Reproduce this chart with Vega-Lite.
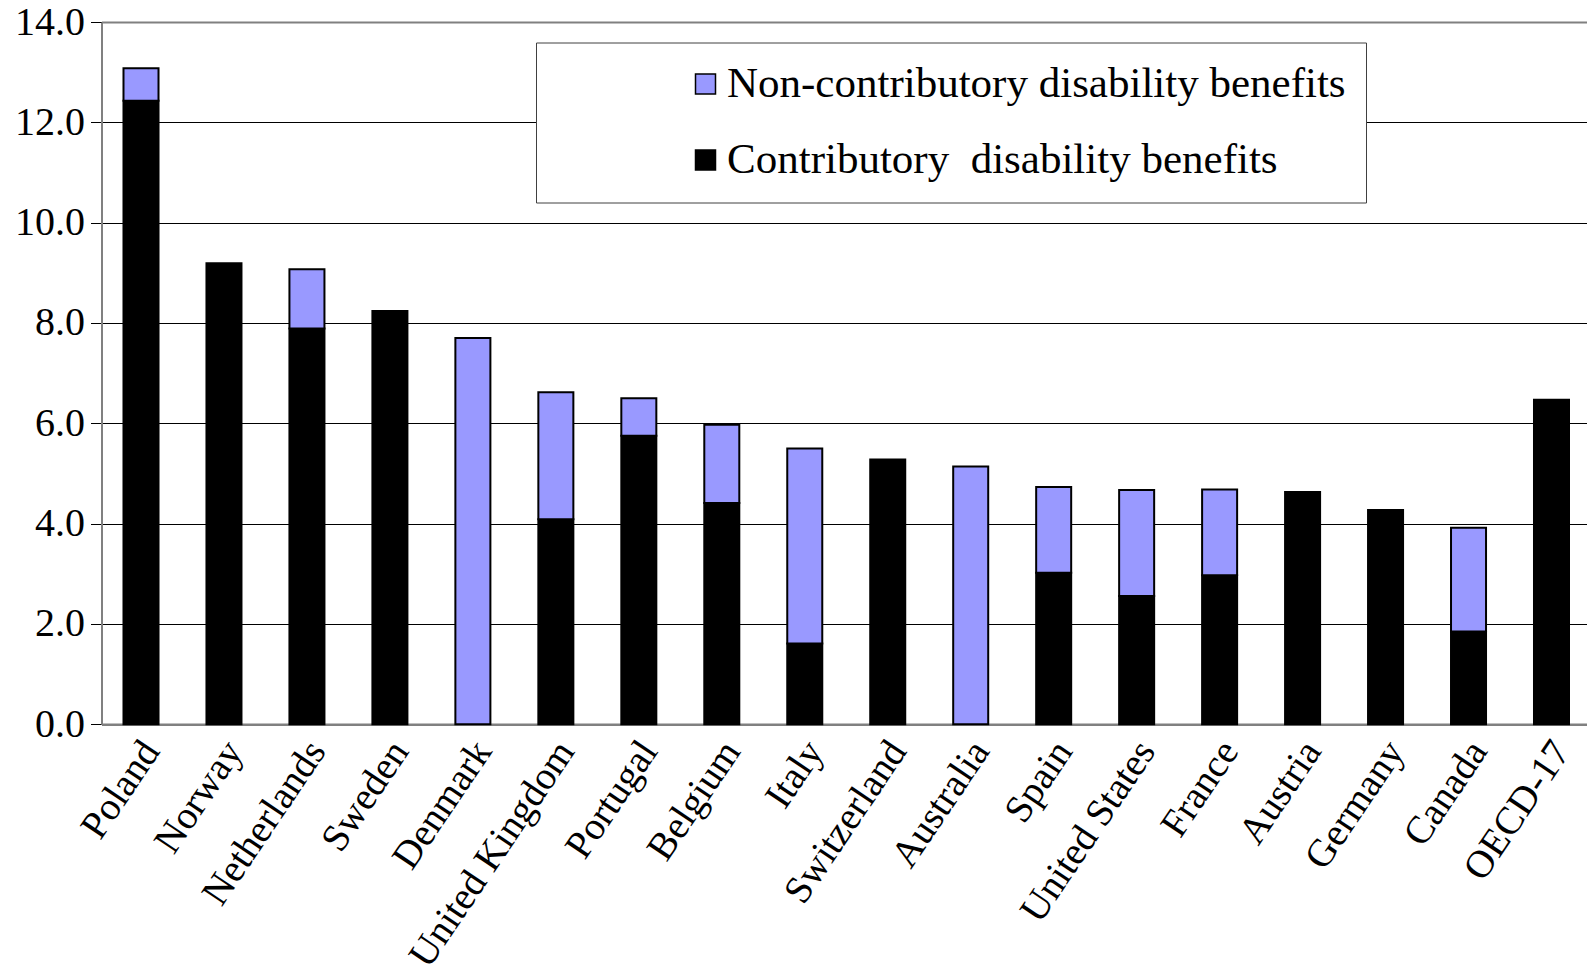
{
  "$schema": "https://vega.github.io/schema/vega-lite/v6.json",
  "autosize": {"type": "none"},
  "padding": {"left": 101.5, "top": 22, "right": 0, "bottom": 252.7},
  "width": 1485.5,
  "height": 702.3,
  "background": "white",
  "config": {"font": "Liberation Serif", "view": {"stroke": null}},
  "data": {
    "values": [
      {"country": "Poland", "type": "Contributory\u00a0 disability benefits", "value": 12.43},
      {"country": "Poland", "type": "Non-contributory disability benefits", "value": 0.65},
      {"country": "Norway", "type": "Contributory\u00a0 disability benefits", "value": 9.19},
      {"country": "Netherlands", "type": "Contributory\u00a0 disability benefits", "value": 7.89},
      {"country": "Netherlands", "type": "Non-contributory disability benefits", "value": 1.18},
      {"country": "Sweden", "type": "Contributory\u00a0 disability benefits", "value": 8.24},
      {"country": "Denmark", "type": "Non-contributory disability benefits", "value": 7.70},
      {"country": "United Kingdom", "type": "Contributory\u00a0 disability benefits", "value": 4.09},
      {"country": "United Kingdom", "type": "Non-contributory disability benefits", "value": 2.53},
      {"country": "Portugal", "type": "Contributory\u00a0 disability benefits", "value": 5.75},
      {"country": "Portugal", "type": "Non-contributory disability benefits", "value": 0.75},
      {"country": "Belgium", "type": "Contributory\u00a0 disability benefits", "value": 4.41},
      {"country": "Belgium", "type": "Non-contributory disability benefits", "value": 1.56},
      {"country": "Italy", "type": "Contributory\u00a0 disability benefits", "value": 1.61},
      {"country": "Italy", "type": "Non-contributory disability benefits", "value": 3.89},
      {"country": "Switzerland", "type": "Contributory\u00a0 disability benefits", "value": 5.28},
      {"country": "Australia", "type": "Non-contributory disability benefits", "value": 5.14},
      {"country": "Spain", "type": "Contributory\u00a0 disability benefits", "value": 3.02},
      {"country": "Spain", "type": "Non-contributory disability benefits", "value": 1.71},
      {"country": "United States", "type": "Contributory\u00a0 disability benefits", "value": 2.56},
      {"country": "United States", "type": "Non-contributory disability benefits", "value": 2.11},
      {"country": "France", "type": "Contributory\u00a0 disability benefits", "value": 2.97},
      {"country": "France", "type": "Non-contributory disability benefits", "value": 1.71},
      {"country": "Austria", "type": "Contributory\u00a0 disability benefits", "value": 4.63},
      {"country": "Germany", "type": "Contributory\u00a0 disability benefits", "value": 4.27},
      {"country": "Canada", "type": "Contributory\u00a0 disability benefits", "value": 1.85},
      {"country": "Canada", "type": "Non-contributory disability benefits", "value": 2.07},
      {"country": "OECD-17", "type": "Contributory\u00a0 disability benefits", "value": 6.47}
    ]
  },
  "mark": {"type": "bar", "stroke": "black", "strokeWidth": 2},
  "encoding": {
    "x": {
      "field": "country",
      "type": "nominal",
      "sort": null,
      "scale": {"paddingInner": 0.578, "paddingOuter": 0.241, "align": 0.55},
      "axis": {
        "title": null,
        "ticks": false,
        "labelAngle": -56,
        "labelAlign": "right",
        "labelBaseline": "middle",
        "labelFont": "Liberation Serif",
        "labelFontSize": 39,
        "labelColor": "black",
        "labelPadding": 20,
        "labelOffset": 10,
        "labelOverlap": false,
        "labelLimit": 0,
        "domainColor": "#808080",
        "domainWidth": 2.5
      }
    },
    "y": {
      "field": "value",
      "type": "quantitative",
      "stack": "zero",
      "scale": {"domain": [0, 14], "nice": false},
      "axis": {
        "title": null,
        "values": [0, 2, 4, 6, 8, 10, 12, 14],
        "format": ".1f",
        "labelFont": "Liberation Serif",
        "labelFontSize": 40,
        "labelColor": "black",
        "labelPadding": 6,
        "tickSize": 11,
        "tickColor": "black",
        "domainColor": "#808080",
        "domainWidth": 2,
        "grid": true,
        "gridColor": {"condition": {"test": "datum.value === 14 || datum.value === 0", "value": "#808080"}, "value": "black"},
        "gridWidth": {"condition": {"test": "datum.value === 14", "value": 2}, "value": 1}
      }
    },
    "order": {"field": "type", "sort": "ascending"},
    "color": {
      "field": "type",
      "type": "nominal",
      "scale": {
        "domain": ["Non-contributory disability benefits", "Contributory\u00a0 disability benefits"],
        "range": ["#9999FF", "#000000"]
      },
      "legend": {
        "title": null,
        "orient": "none",
        "legendX": 434.5,
        "legendY": 20.5,
        "direction": "vertical",
        "strokeColor": "#404040",
        "fillColor": "white",
        "padding": 20,
        "symbolType": "square",
        "symbolSize": 400,
        "symbolStrokeColor": "black",
        "symbolStrokeWidth": 1.5,
        "symbolOffset": 128,
        "labelFont": "Liberation Serif",
        "labelFontSize": 43,
        "labelColor": "black",
        "labelOffset": 0,
        "labelLimit": 0,
        "rowPadding": 32
      }
    }
  }
}
